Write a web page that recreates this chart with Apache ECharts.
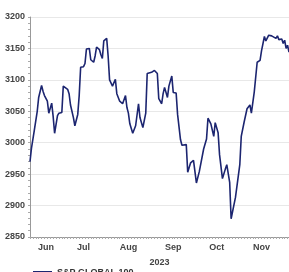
<!doctype html>
<html lang="en">
<head>
    <meta charset="UTF-8">
    <title>S&amp;P Global 100</title>
    <style>
        html, body { margin: 0; padding: 0; background: #fff; }
        #main { width: 289px; height: 272px; }
    </style>
</head>
<body>
<div id="main"></div>
<script src="https://cdn.jsdelivr.net/npm/echarts@6/dist/echarts.min.js"></script>
<script type="text/javascript">
    // readings (date, index level)
    var pointDates = [
        '06-09','06-10','06-11','06-12','06-14','06-15','06-17','06-18','06-19','06-21',
        '06-22','06-24','06-25','06-26','06-28','06-29','07-01','07-02','07-03','07-05',
        '07-06','07-07','07-09','07-10','07-12','07-13','07-14','07-16','07-17','07-18',
        '07-20','07-21','07-23','07-24','07-25','07-27','07-28','07-29','07-30','08-01',
        '08-02','08-03','08-05','08-06','08-07','08-08','08-10','08-12','08-14','08-15',
        '08-16','08-17','08-19','08-21','08-22','08-23','08-24','08-26','08-28','08-29',
        '08-30','09-01','09-03','09-05','09-06','09-08','09-09','09-10','09-12','09-13',
        '09-15','09-16','09-18','09-19','09-21','09-22','09-23','09-25','09-26','09-27',
        '09-28','09-30','10-01','10-02','10-04','10-05','10-07','10-09','10-10','10-12',
        '10-14','10-15','10-17','10-18','10-20','10-22','10-23','10-25','10-26','10-27',
        '10-29','10-30','11-01','11-02','11-04','11-06','11-08','11-09','11-11','11-12',
        '11-13','11-15','11-16','11-18','11-19','11-21','11-23','11-24','11-26','11-27',
        '11-28','11-30','12-01','12-02','12-03','12-04','12-05'
    ];
    var levels = [
        2970,2991,2994,3020,3050,3072,3091,3082,3075,3066,
        3047,3063,3042,3015,3043,3047,3048,3090,3088,3085,
        3078,3060,3040,3027,3045,3075,3120,3121,3126,3149,
        3150,3132,3128,3138,3152,3148,3140,3134,3162,3166,
        3138,3100,3090,3088,3101,3078,3066,3062,3075,3056,
        3047,3030,3015,3027,3026,3062,3040,3024,3047,3110,
        3110,3112,3115,3110,3070,3062,3078,3088,3072,3090,
        3106,3080,3079,3045,3005,2996,2994,2997,2953,2954,
        2968,2972,2975,2936,2954,2957,2990,3006,3039,3030,
        3010,3032,3016,2981,2943,2958,2965,2937,2879,2876,
        2913,2915,2965,3010,3033,3054,3060,3047,3081,3084,
        3128,3131,3146,3169,3162,3171,3170,3170,3166,3170,
        3164,3165,3158,3163,3150,3155,3144
    ];
    var monthLabels = { '06-20': 'Jun', '07-16': 'Jul', '08-16': 'Aug', '09-16': 'Sep', '10-16': 'Oct', '11-16': 'Nov' };
    var yTicks = [2850, 2900, 2950, 3000, 3050, 3100, 3150, 3200];
    var seriesName = 'S&P GLOBAL 100';

    // calendar days for the axis (Jun 9 .. Dec 5)
    var days = [];
    var d = new Date(2023, 5, 9);
    var end = new Date(2023, 11, 5);
    function pad(n) { return (n < 10 ? '0' : '') + n; }
    while (d <= end) {
        days.push(pad(d.getMonth() + 1) + '-' + pad(d.getDate()));
        d.setDate(d.getDate() + 1);
    }

    var seriesData = [];
    for (var i = 0; i < pointDates.length; i++) {
        seriesData.push([pointDates[i], levels[i]]);
    }

    var myChart = echarts.init(document.getElementById('main'));
    var font = 'Liberation Sans, Arial, sans-serif';

    var option = {
        animation: false,
        grid: { left: 30, right: 0, top: 17, bottom: 35 },
        legend: {
            data: [seriesName],
            left: 28,
            top: 263,
            icon: 'rect',
            itemWidth: 19,
            itemHeight: 3,
            itemGap: 4,
            textStyle: { fontFamily: font, fontSize: 9, fontWeight: 'bold', color: '#333' }
        },
        xAxis: {
            type: 'category',
            data: days,
            boundaryGap: false,
            name: '2023',
            nameLocation: 'middle',
            nameGap: 21,
            nameTextStyle: { fontFamily: font, fontSize: 9, fontWeight: 'bold', color: '#444' },
            axisLine: { lineStyle: { color: '#999', width: 1 } },
            axisTick: { show: true, interval: 1, length: 2, lineStyle: { color: '#aaa' } },
            axisLabel: {
                interval: function (idx, val) { return monthLabels[val] !== undefined; },
                formatter: function (val) { return monthLabels[val] || ''; },
                fontFamily: font,
                fontSize: 9,
                fontWeight: 'bold',
                color: '#444',
                margin: 6
            },
            splitLine: { show: false }
        },
        yAxis: {
            type: 'value',
            min: yTicks[0],
            max: yTicks[yTicks.length - 1],
            interval: 50,
            axisLine: { show: true, lineStyle: { color: '#999' } },
            axisTick: { show: true, length: 2, lineStyle: { color: '#aaa' } },
            minorTick: { show: true, splitNumber: 5, length: 2, lineStyle: { color: '#aaa' } },
            axisLabel: {
                formatter: function (v) { return String(v); },
                fontFamily: font,
                fontSize: 9,
                fontWeight: 'bold',
                color: '#444',
                margin: 5
            },
            splitLine: { lineStyle: { color: '#e8e8e8', width: 1 } }
        },
        series: [
            {
                name: seriesName,
                type: 'line',
                data: seriesData,
                symbol: 'none',
                connectNulls: true,
                lineStyle: { color: '#1c2570', width: 1.6 },
                itemStyle: { color: '#1c2570' }
            }
        ]
    };
    myChart.setOption(option);
</script>
</body>
</html>
